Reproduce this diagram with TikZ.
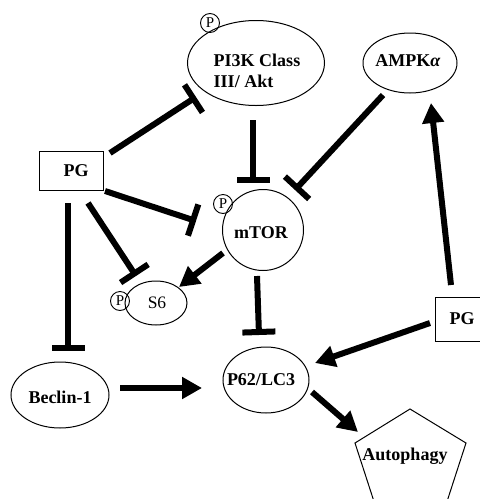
\documentclass[tikz,border=0pt]{standalone}
\usepackage{fontspec}
\setmainfont{Liberation Serif}
\usetikzlibrary{shapes.geometric,arrows.meta,calc}
\begin{document}
\begin{tikzpicture}[x=1pt,y=-1pt,
  ell/.style={draw,ellipse,line width=1pt,inner sep=0pt},
  boxn/.style={draw,rectangle,line width=1pt,inner sep=0pt},
  lbl/.style={font=\fontsize{18}{21}\selectfont\bfseries,inner sep=0pt},
  pc/.style={draw,circle,line width=0.9pt,minimum size=19pt,inner sep=0pt,font=\fontsize{15}{15}\selectfont},
  con/.style={line width=6pt},
  inh/.style={con,-{Bar[width=33pt]}},
  act/.style={con,-{Triangle[length=20pt,width=21pt]}}]
\clip (0,0) rectangle (480,499);
% nodes
\node[ell,minimum width=137pt,minimum height=85pt] (pi3k) at (256,63) {};
\node[lbl,align=left] (pi3kT) at (257,71) {PI3K Class\\III/ Akt};
\node[pc] (pA) at (210,23) {P};
\node[ell,minimum width=94pt,minimum height=60pt] (ampk) at (410,63) {};
\node[lbl] (ampkT) at (408,61) {AMPK\textit{α}};
\node[boxn,minimum width=64pt,minimum height=39pt] (pgL) at (71,171) {};
\node[lbl] (pgLT) at (76,171) {PG};
\node[ell,circle,minimum size=81pt] (mtor) at (263,230) {};
\node[lbl] (mtorT) at (261,233) {mTOR};
\node[pc] (pB) at (223,204) {P};
\node[ell,minimum width=62pt,minimum height=44pt] (s6) at (156,303) {};
\node[inner sep=0pt,font=\fontsize{17.5}{17.5}\selectfont] (s6T) at (157,303) {S6};
\node[pc] (pC) at (120,301) {P};
\node[boxn,minimum width=54pt,minimum height=44pt] (pgR) at (462,319) {};
\node[lbl] (pgRT) at (462,319) {PG};
\node[ell,minimum width=98pt,minimum height=66pt] (bec) at (60,395) {};
\node[lbl] (becT) at (60,397) {Beclin-1};
\node[ell,minimum width=86pt,minimum height=66pt] (p62) at (266,380) {};
\node[lbl] (p62T) at (261,380) {P62/LC3};
\draw[line width=1pt] (410,409) -- (466,443) -- (441,520) -- (380,520) -- (355,443) -- cycle;
\node[lbl] (auto) at (405,456) {Autophagy};
% connectors
\draw[inh] ($(pgL)+(39,-18)$) -- ($(pi3k)+(-60,34)$);
\draw[inh] ($(pi3k)+(-3,57)$) -- ($(mtor)+(-10,-47)$);
\draw[inh] ($(ampk)+(-27,32)$) -- ($(mtor)+(32,-40)$);
\draw[inh] ($(pgL)+(34,20)$) -- ($(mtor)+(-67,-9)$);
\draw[inh] ($(pgL)+(17,32)$) -- ($(s6)+(-20,-27)$);
\draw[inh] ($(pgL)+(-3,32)$) -- ($(bec)+(8,-44)$);
\draw[act] ($(mtor)+(-40,23)$) -- ($(s6)+(23,-16)$);
\draw[inh] ($(mtor)+(-6,46)$) -- ($(p62)+(-7,-45)$);
\draw[act] ($(pgR)+(-32,4)$) -- ($(p62)+(49,-17)$);
\draw[act] ($(pgR)+(-11,-34)$) -- ($(ampk)+(21,40)$);
\draw[act] ($(bec)+(60,-7)$) -- ($(p62)+(-64,8)$);
\draw[act] ($(p62)+(46,12)$) -- ($(auto)+(-47,-24)$);
\end{tikzpicture}
\end{document}
